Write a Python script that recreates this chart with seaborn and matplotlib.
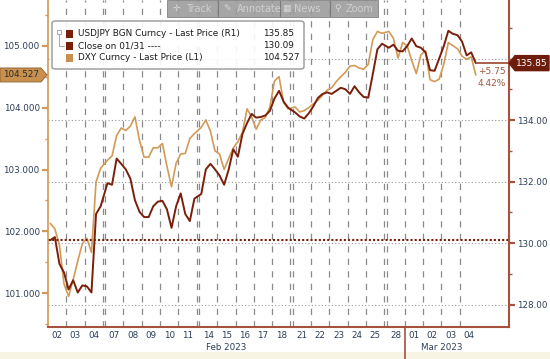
import numpy as np
import pandas as pd
import matplotlib
matplotlib.use("Agg")
import matplotlib.pyplot as plt
import seaborn as sns
from matplotlib.patches import Polygon, Rectangle, FancyBboxPatch
from matplotlib.lines import Line2D

# dates shown on the axis (trading days, weekends collapsed)
days = ["02", "03", "04", "07", "08", "09", "10", "11", "14", "15", "16", "17",
        "18", "21", "22", "23", "24", "25", "28", "01", "02", "03", "04"]
weekend_after = [2, 7, 12, 17]
month_names = ["Feb 2023", "Mar 2023"]
month_first_day = [0, 19]
per_day = 4

# DXY Curncy (left axis), 4 readings per day
dxy = [102.13, 102.04, 101.78, 101.15,
       100.95, 101.22, 101.52, 101.80,
       101.89, 101.66, 102.80, 103.02,
       103.15, 103.22, 103.55, 103.67,
       103.63, 103.70, 103.85, 103.47,
       103.20, 103.20, 103.35, 103.35,
       103.42, 103.05, 102.72, 103.10,
       103.25, 103.26, 103.50, 103.58,
       103.68, 103.80, 103.62, 103.30,
       103.25, 103.00, 103.18, 103.35,
       103.45, 103.60, 103.98, 103.85,
       103.65, 103.80, 103.84, 104.01,
       104.43, 104.50, 104.08, 103.98,
       104.01, 103.93, 103.95, 104.00,
       104.06, 104.12, 104.20, 104.28,
       104.32, 104.42, 104.50, 104.57,
       104.67, 104.68, 104.64, 104.62,
       104.70, 105.10, 105.23, 105.20,
       105.23, 105.12, 104.80, 105.05,
       105.00, 104.76, 104.55, 104.85,
       104.92, 104.45, 104.42, 104.46,
       104.70, 105.05, 105.00, 104.95,
       104.83, 104.78, 104.82, 104.527]

# USDJPY BGN Curncy (right axis)
usdjpy = [130.10, 130.20, 129.33, 129.05,
          128.50, 128.80, 128.40, 128.63,
          128.60, 128.40, 130.95, 131.20,
          131.95, 131.90, 132.75, 132.58,
          132.40, 132.10, 131.40, 131.02,
          130.85, 130.85, 131.20, 131.35,
          131.38, 131.10, 130.50, 131.20,
          131.62, 130.95, 130.72, 131.45,
          131.60, 132.40, 132.58, 132.40,
          132.20, 131.90, 132.40, 133.05,
          132.81, 133.55, 133.90, 134.20,
          134.08, 134.10, 134.15, 134.30,
          134.70, 134.95, 134.60, 134.40,
          134.25, 134.12, 134.05, 134.22,
          134.45, 134.72, 134.85, 134.90,
          134.85, 134.95, 135.05, 135.00,
          134.85, 135.10, 134.90, 134.75,
          134.73, 135.50, 136.30, 136.48,
          136.35, 136.45, 136.25, 136.23,
          136.40, 136.65, 136.40, 136.35,
          136.20, 135.62, 135.60, 136.00,
          136.40, 136.90, 136.80, 136.76,
          136.55, 136.10, 136.20, 135.85]

close_0131 = 130.09
legend_names = ["USDJPY BGN Curncy - Last Price (R1)", "Close on 01/31 ----",
                "DXY Curncy - Last Price (L1)"]
legend_values = ["135.85", "130.09", "104.527"]
change_text = ["+5.75", "4.42%"]

BROWN = "#7a1f0c"
BROWN_AX = "#a5533f"
TAN = "#d39a55"
TAN_BOX = "#c8904e"
TXT = "#2c3e55"
W, H = 550, 359

# day start positions, weekend leaves a small gap
gap = 0.125
starts = []
pos = 0.0
for i in range(len(days)):
    starts.append(pos)
    pos += 1
    if i in weekend_after:
        pos += gap
end = pos

x = [starts[i] + (k + 0.5) / per_day for i in range(len(days)) for k in range(per_day)]
df = pd.DataFrame({"x": x, "dxy": dxy, "usdjpy": usdjpy})

sns.set_style("white")
plt.rcParams["font.family"] = ["DejaVu Sans"]

fig = plt.figure(figsize=(W / 100, H / 100), dpi=100)
fig.patch.set_facecolor("white")
ax = fig.add_axes([48 / W, 32 / H, 461 / W, 327 / H])
ax2 = ax.twinx()

ax.set_xlim(0, end + 1.69)
ax.set_ylim(100.456, 105.738)
ax2.set_ylim(127.28, 137.9)

# vertical day separators
for i in range(1, len(days)):
    ax.axvline(starts[i], color="#8a8a8a", lw=0.9, ls=(0, (5, 5)), zorder=1)
    if (i - 1) in weekend_after:
        ax.axvline(starts[i - 1] + 1, color="#8a8a8a", lw=0.9, ls=(0, (5, 5)), zorder=1)

# horizontal grid (right axis)
for v in [128, 130, 132, 134, 136]:
    ax2.axhline(v, color="#9a9a9a", lw=0.8, ls=(0, (1, 2)), zorder=1)
ax2.axhline(close_0131, color=BROWN, lw=1.5, ls=(0, (1, 1)), zorder=2)

sns.lineplot(data=df, x="x", y="dxy", ax=ax, color=TAN, lw=1.2, zorder=3)
sns.lineplot(data=df, x="x", y="usdjpy", ax=ax2, color=BROWN, lw=1.4, zorder=4)
ax2.plot([df["x"].iloc[-1], end + 1.69], [usdjpy[-1]] * 2, color=BROWN_AX, lw=1.3,
         clip_on=False, zorder=4)

for a in (ax, ax2):
    a.set_xlabel("")
    a.set_ylabel("")
    for s in a.spines.values():
        s.set_visible(False)
ax2.spines["right"].set_visible(True)
ax2.spines["right"].set_color(BROWN_AX)
ax2.spines["right"].set_linewidth(1.5)
ax2.spines["bottom"].set_visible(True)
ax2.spines["bottom"].set_color(BROWN_AX)
ax2.spines["bottom"].set_linewidth(1.5)
ax2.spines["left"].set_visible(True)
ax2.spines["left"].set_color(TAN)
ax2.spines["left"].set_linewidth(1.2)

# left axis
ax.set_yticks([101, 102, 103, 104, 105])
ax.set_yticklabels([f"{v:.3f}" for v in [101, 102, 103, 104, 105]])
ax.set_yticks(np.arange(100.5, 105.6, 1.0), minor=True)
ax.tick_params(axis="y", which="major", colors=TAN, labelcolor=TXT, labelsize=6.3,
               length=4, width=1.6, pad=2, left=True)
ax.tick_params(axis="y", which="minor", colors=TAN, length=2, width=1, left=True)

# right axis
ax2.set_yticks([128, 130, 132, 134])
ax2.set_yticklabels([f"{v:.2f}" for v in [128, 130, 132, 134]])
ax2.set_yticks([129, 131, 133, 135, 136, 137], minor=True)
ax2.tick_params(axis="y", which="major", colors=BROWN_AX, labelcolor=TXT, labelsize=6.3,
                length=4, width=1.6, pad=2, right=True)
ax2.tick_params(axis="y", which="minor", colors=BROWN_AX, length=2, width=1, right=True)

# x axis
ax.set_xticks([s + 0.5 for s in starts])
ax.set_xticklabels(days)
ax.tick_params(axis="x", length=0, labelsize=6.3, labelcolor=TXT, pad=3)
bounds = [starts[m] for m in month_first_day] + [end]
for j, name in enumerate(month_names):
    ax.text((bounds[j] + bounds[j + 1]) / 2, -0.062, name, transform=ax.get_xaxis_transform(),
            ha="center", va="center", fontsize=6.3, color=TXT)
ax.axvline(starts[month_first_day[1]], ymin=-0.1, ymax=0, color=BROWN_AX, lw=1.2, clip_on=False)

fig.add_artist(Rectangle((0, 0), 1, 7 / H, transform=fig.transFigure,
                         facecolor="#f8f4e4", edgecolor="none", zorder=0))


def fp(px, py):
    return (px / W, 1 - py / H)


fig.canvas.draw()
inv = fig.transFigure.inverted()

# last price tags
yr = inv.transform(ax2.transData.transform((0, usdjpy[-1])))[1]
yr_px = (1 - yr) * H
tag = [fp(509, yr_px), fp(515, yr_px - 7.5), fp(549, yr_px - 7.5), fp(549, yr_px + 7.5),
       fp(515, yr_px + 7.5)]
fig.add_artist(Polygon(tag, closed=True, transform=fig.transFigure, facecolor="#6e1c0c",
                       edgecolor="#6e1c0c", zorder=10))
fig.text(532 / W, yr, legend_values[0], ha="center", va="center", fontsize=6.5,
         color="white", zorder=11)

yl = inv.transform(ax.transData.transform((0, dxy[-1])))[1]
yl_px = (1 - yl) * H
tag = [fp(47, yl_px), fp(41, yl_px - 7), fp(0, yl_px - 7), fp(0, yl_px + 7), fp(41, yl_px + 7)]
fig.add_artist(Polygon(tag, closed=True, transform=fig.transFigure, facecolor=TAN_BOX,
                       edgecolor="#8a6030", lw=0.6, zorder=10))
fig.text(21 / W, yl, legend_values[2], ha="center", va="center", fontsize=6.3,
         color="#2a2a2a", zorder=11)

# change vs close
fig.text(506 / W, 1 - 71 / H, change_text[0], ha="right", va="center", fontsize=6.5,
         color=BROWN_AX, zorder=11)
fig.text(506 / W, 1 - 84 / H, change_text[1], ha="right", va="center", fontsize=6.5,
         color=BROWN_AX, zorder=11)

# legend box
fig.add_artist(FancyBboxPatch(fp(52, 69), 252 / W, 48 / H, boxstyle="round,pad=0,rounding_size=0.006",
                              transform=fig.transFigure, facecolor="white", alpha=0.9,
                              edgecolor="#8c8c8c", lw=1, zorder=8))
sq_colors = [BROWN, BROWN, TAN_BOX]
for j, (name, val) in enumerate(zip(legend_names, legend_values)):
    yy = 34 + 12 * j
    fig.add_artist(Rectangle(fp(66, yy + 3.5), 7 / W, 7 / H, transform=fig.transFigure,
                             facecolor=sq_colors[j], edgecolor="none", zorder=9))
    fig.text(78 / W, 1 - yy / H, name, ha="left", va="center", fontsize=6.4,
             color="#1a1a1a", zorder=9)
    fig.text(263 / W, 1 - yy / H, val, ha="left", va="center", fontsize=6.4,
             color="#1a1a1a", zorder=9)
fig.add_artist(Rectangle(fp(57, 34), 4 / W, 4 / H, transform=fig.transFigure,
                         facecolor="white", edgecolor="#999999", lw=0.6, zorder=9))
fig.add_artist(Line2D([59 / W, 59 / W, 64 / W], [1 - 34 / H, 1 - 46 / H, 1 - 46 / H],
                      transform=fig.transFigure, color="#999999", lw=0.6, zorder=9))

# toolbar
fig.add_artist(Rectangle(fp(167, 17), 211 / W, 17 / H, transform=fig.transFigure,
                         facecolor="#9c9c9c", edgecolor="#7a7a7a", lw=0.6, alpha=0.9, zorder=8))
for sx in [218, 280, 330]:
    fig.add_artist(Line2D([sx / W, sx / W], [1 - 1 / H, 1 - 16 / H], transform=fig.transFigure,
                          color="#7a7a7a", lw=0.8, zorder=9))
for ix, tx, icon, label in [(176, 186, "\u271b", "Track"), (227, 237, "\u270e", "Annotate"),
                            (286, 294, "\u25a6", "News"), (338, 346, "\u26b2", "Zoom")]:
    fig.text(ix / W, 1 - 8.5 / H, icon, ha="center", va="center", fontsize=6.5,
             color="#d8d8d8", zorder=9)
    fig.text(tx / W, 1 - 8.5 / H, label, ha="left", va="center", fontsize=7,
             color="#d0d0d0", zorder=9)

fig.savefig("out.png", dpi=100)
